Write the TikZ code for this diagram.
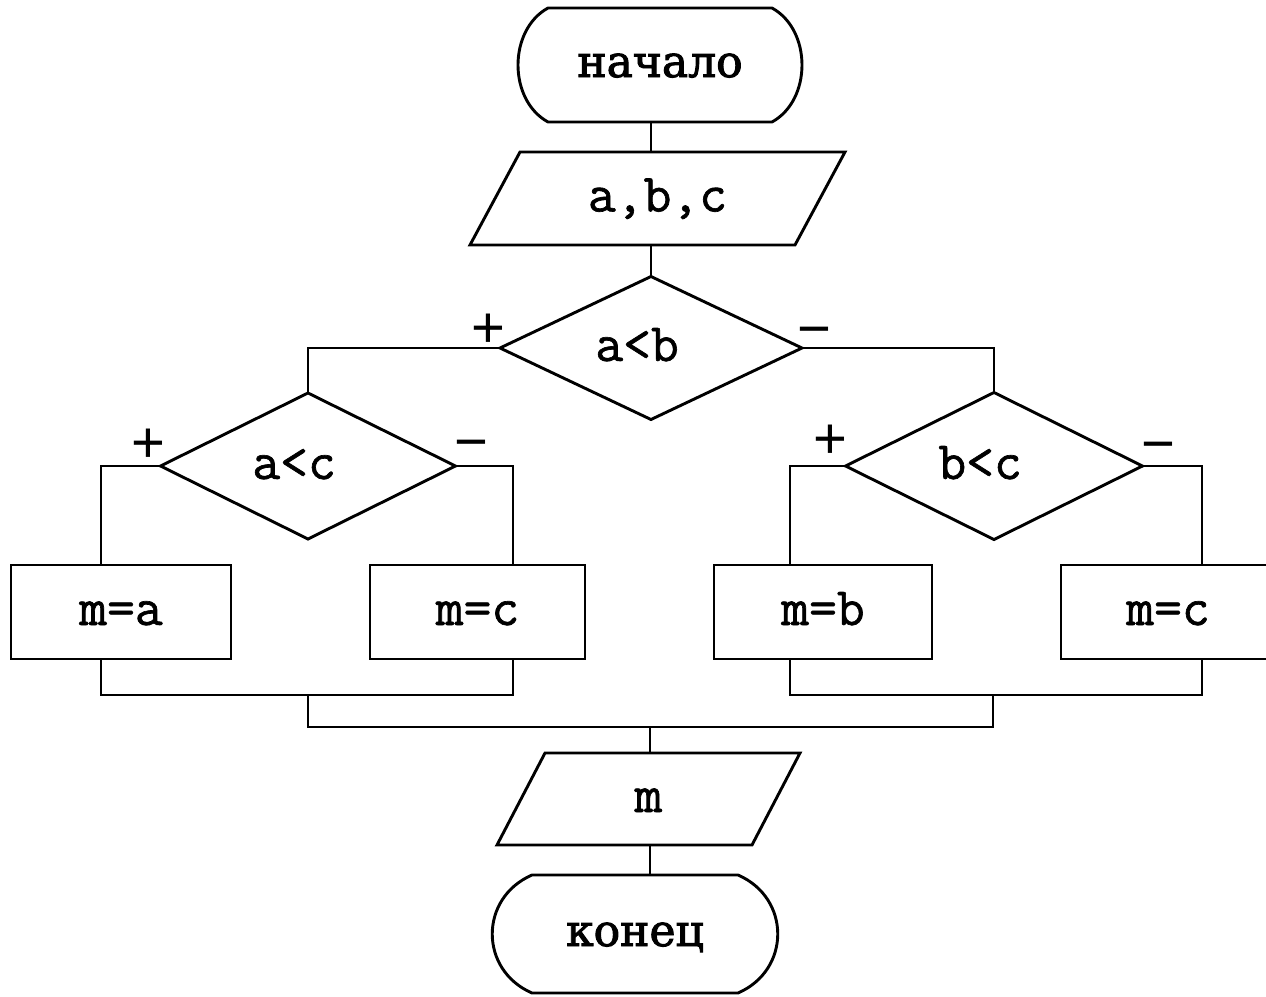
\documentclass[tikz,border=0pt]{standalone}
\usepackage{fontspec}
\usetikzlibrary{shapes.geometric,calc}
\newfontfamily\flowmono[FakeBold=1.2]{Latin Modern Mono}
\newfontfamily\flowcyr[FakeBold=2.2]{DejaVu Serif}
\newfontfamily\flowsans{Liberation Sans}

% terminal outline: node, flat half-width, half-height, control x, control y
\newcommand\termshape[5]{%
  \draw[flowline] ($(#1)+(-#2,-#3)$) -- ($(#1)+(#2,-#3)$)
    .. controls ($(#1)+(#4,-#5)$) and ($(#1)+(#4,#5)$) .. ($(#1)+(#2,#3)$)
    -- ($(#1)+(-#2,#3)$)
    .. controls ($(#1)+(-#4,#5)$) and ($(#1)+(-#4,-#5)$) .. cycle;}
% input/output outline: node, half-width, half-height, slant
\newcommand\ioshape[4]{%
  \draw[flowline] ($(#1)+(-#2,#3)$) -- ($(#1)+(-#2+#4,-#3)$)
    -- ($(#1)+(#2,-#3)$) -- ($(#1)+(#2-#4,#3)$) -- cycle;}

\tikzset{
  flowline/.style={line width=1.45pt, black, line join=miter},
  textnode/.style={inner sep=0pt, outer sep=0pt, text height=13pt, text depth=0pt,
    font={\flowmono\fontsize{27pt}{30pt}\selectfont}},
  termnode/.style={inner sep=0pt, outer sep=0pt, text height=12pt, text depth=0pt,
    font={\flowcyr\fontsize{22pt}{26pt}\selectfont}},
  decision/.style={textnode, shape=diamond, draw, flowline},
  process/.style={textnode, draw, flowline, minimum height=47pt},
  signlabel/.style={inner sep=0pt, outer sep=0pt,
    font={\flowsans\fontsize{29pt}{32pt}\selectfont}}
}

\begin{document}
\begin{tikzpicture}[x=0.5pt, y=-0.5pt]
  \useasboundingbox (0,0) rectangle (1266,997);
  \fill[white] (0,0) rectangle (1266,997);
  \clip (0,0) rectangle (1266,997);

  % start and input
  \node[termnode, minimum width=142pt, minimum height=57pt] (start) at (660,65) {начало};
  \termshape{start}{112}{57}{152}{35}
  \node[textnode, minimum width=187.5pt, minimum height=46.5pt] (io1) at (657.5,198.5) {a,b,c};
  \ioshape{io1}{187.5}{46.5}{50}

  % decisions
  \node[decision, minimum width=151pt, minimum height=71.5pt] (d1) at (651,348) {a<b\hphantom{x}};
  \node[decision, minimum width=147.5pt, minimum height=73pt] (d2) at (308,466) {a<c\hphantom{x}};
  \node[decision, minimum width=148.5pt, minimum height=73.5pt] (d3) at (994,466) {b<c\hphantom{x}};

  % assignments
  \node[process, minimum width=110pt] (b1) at (121,612) {m=a};
  \node[process, minimum width=107.5pt] (b2) at (477.5,612) {m=c};
  \node[process, minimum width=109pt] (b3) at (823,612) {m=b};
  \node[process, minimum width=107pt] (b4) at (1168,612) {m=c};

  % output and end
  \node[textnode, minimum width=151.5pt, minimum height=46pt] (io2) at (648.5,799) {m};
  \ioshape{io2}{151.5}{46}{48}
  \node[termnode, minimum width=143pt, minimum height=59pt] (stop) at (635,934) {конец};
  \termshape{stop}{103}{59}{156}{36}

  % branch lanes and junctions
  \coordinate (laneA) at (101,566);
  \coordinate (laneB) at (513,566);
  \coordinate (laneC) at (790,566);
  \coordinate (laneD) at (1202,566);
  \coordinate (joinL) at (308,695);
  \coordinate (joinR) at (993,695);
  \coordinate (joinC) at (650,727);

  % connectors
  \draw[flowline] (start.south -| d1.north) -- (io1.north -| d1.north);
  \draw[flowline] (io1.south -| d1.north) -- (d1.north);
  \draw[flowline] (d1.west) -| (d2.north);
  \draw[flowline] (d1.east) -| (d3.north);
  \draw[flowline] (d2.west) -| (laneA |- b1.north);
  \draw[flowline] (d2.east) -| (laneB |- b2.north);
  \draw[flowline] (d3.west) -| (laneC |- b3.north);
  \draw[flowline] (d3.east) -| (laneD |- b4.north);
  \draw[flowline] (laneA |- b1.south) |- (joinL) -| (laneB |- b2.south);
  \draw[flowline] (laneC |- b3.south) |- (joinR) -| (laneD |- b4.south);
  \draw[flowline] (joinL) |- (joinC) -| (joinR);
  \draw[flowline] (joinC) -- (io2.north -| joinC);
  \draw[flowline] (io2.south -| joinC) -- (stop.north -| joinC);

  % branch signs
  \node[signlabel] (s1) at ($(d1.west)+(-12,-17)$) {+};
  \node[signlabel] (s2) at ($(d1.east)+(12,-10)$) {−};
  \node[signlabel] (s3) at ($(d2.west)+(-12,-20)$) {+};
  \node[signlabel] (s4) at ($(d2.east)+(16,-15)$) {−};
  \node[signlabel] (s5) at ($(d3.west)+(-15,-24)$) {+};
  \node[signlabel] (s6) at ($(d3.east)+(16,-13)$) {−};
\end{tikzpicture}
\end{document}
